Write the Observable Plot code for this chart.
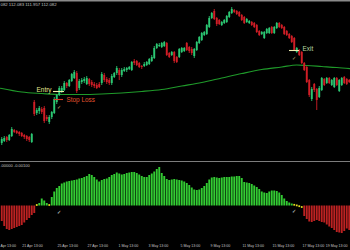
<!DOCTYPE html>
<html><head><meta charset="utf-8">
<script src="https://cdn.jsdelivr.net/npm/d3@7"></script>
<script src="https://cdn.jsdelivr.net/npm/@observablehq/plot@0.6"></script>
<style>
html,body{margin:0;padding:0;background:#000;}
#wrap{width:350px;height:250px;overflow:hidden;background:#000;}
#sep{height:0;border-top:1px solid #7c7c7c;}
svg{display:block;}
</style></head><body><div id="wrap"><div id="top"></div><div id="sep"></div><div id="bot"></div></div>
<script>
// ---- price candles (H4) ----
const open = [108.98,109.06,109.22,109.10,109.26,109.50,109.46,109.42,109.38,109.30,109.26,109.22,109.02,
110.62,110.18,110.26,110.34,110.38,110.02,109.82,110.02,110.18,110.62,110.90,111.06,111.10,
111.38,111.26,111.46,111.58,111.78,111.18,111.42,111.46,111.34,111.54,111.42,111.34,111.30,111.34,
111.38,111.70,111.54,111.50,111.38,111.62,111.78,111.90,111.70,111.86,111.90,111.94,111.90,
112.26,112.26,112.18,112.06,112.06,112.10,112.14,112.26,112.38,112.78,112.86,112.82,112.86,
112.98,112.58,112.50,112.62,112.42,112.42,112.62,112.66,112.98,112.82,112.74,112.46,112.70,
112.98,113.10,113.30,113.34,113.62,113.98,114.26,113.98,113.90,113.70,113.78,113.82,114.02,114.18,
114.30,114.26,114.22,114.10,114.02,113.82,113.78,113.82,113.78,113.70,113.46,113.34,113.18,
113.38,113.38,113.62,113.38,113.58,113.78,113.70,113.62,113.46,113.34,113.26,113.18,112.62,
112.70,112.62,112.18,112.02,111.50,110.74,111.34,111.14,110.82,111.10,111.54,111.38,111.58,
111.30,111.22,111.58,111.06,111.30,111.62,111.54,111.50];
const high = [109.22,109.26,109.26,109.34,109.62,109.54,109.50,109.46,109.42,109.34,109.30,109.26,109.38,
110.70,110.38,110.46,110.42,110.46,110.10,110.10,110.26,110.82,110.94,111.26,111.26,111.46,
111.42,111.54,111.78,111.90,111.86,111.54,111.58,111.62,111.66,111.58,111.50,111.42,111.38,111.42,
111.82,111.78,111.62,111.58,111.74,111.82,112.06,111.98,111.98,112.02,112.02,112.06,112.26,
112.34,112.30,112.22,112.10,112.22,112.26,112.38,112.50,112.86,112.98,112.98,113.02,113.06,
113.02,112.62,112.66,112.66,112.46,112.78,112.82,112.82,113.02,112.86,112.82,112.78,113.06,
113.26,113.42,113.46,113.74,114.06,114.22,114.34,114.02,113.94,113.86,113.94,114.10,114.26,114.42,
114.34,114.30,114.26,114.14,114.06,113.98,113.90,113.86,113.82,113.74,113.50,113.46,113.46,
113.58,113.62,113.66,113.66,113.82,113.82,113.74,113.66,113.50,113.38,113.30,113.22,112.82,
112.74,112.66,112.22,112.06,111.54,111.22,111.38,111.18,111.26,111.62,111.58,111.62,111.62,
111.54,111.62,111.62,111.54,111.62,111.66,111.58,111.54];
const low = [108.90,109.02,109.02,109.06,109.22,109.38,109.34,109.26,109.22,109.14,109.06,109.02,108.98,
110.06,110.10,110.14,110.14,109.78,109.86,109.74,109.94,110.14,110.54,110.86,110.98,111.06,
111.18,111.22,111.42,111.54,110.98,111.10,111.34,111.38,111.30,111.26,111.22,111.18,111.14,111.18,
111.30,111.42,111.34,111.30,111.30,111.58,111.70,111.50,111.62,111.82,111.82,111.90,111.86,
112.10,112.06,111.98,111.94,112.02,112.06,112.10,112.22,112.34,112.74,112.82,112.78,112.82,
112.46,112.38,112.46,112.18,112.18,112.38,112.58,112.62,112.66,112.58,112.50,112.38,112.66,
112.94,113.06,113.26,113.30,113.58,113.94,113.90,113.66,113.70,113.66,113.74,113.78,113.98,114.14,
114.18,114.10,114.02,113.86,113.74,113.78,113.74,113.66,113.58,113.38,113.26,113.30,113.14,
113.34,113.34,113.34,113.34,113.54,113.58,113.54,113.30,113.26,113.14,112.98,112.66,112.58,
112.46,112.14,111.86,111.38,110.82,110.66,111.02,110.30,110.78,111.06,111.26,111.34,111.34,
111.26,111.18,111.26,111.02,111.26,111.34,111.30,111.38];
const close = [109.14,109.18,109.10,109.30,109.54,109.42,109.38,109.34,109.26,109.22,109.14,109.10,109.34,
110.14,110.30,110.38,110.22,109.86,109.94,110.02,110.22,110.74,110.90,111.18,111.18,111.38,
111.26,111.50,111.74,111.82,111.06,111.46,111.50,111.54,111.58,111.34,111.30,111.26,111.18,111.22,
111.74,111.50,111.42,111.38,111.66,111.78,111.98,111.70,111.90,111.94,111.98,112.02,112.22,
112.18,112.10,112.02,112.02,112.14,112.22,112.34,112.42,112.78,112.94,112.90,112.98,113.02,
112.50,112.42,112.62,112.26,112.22,112.74,112.78,112.78,112.70,112.66,112.58,112.74,113.02,
113.22,113.38,113.42,113.70,113.98,114.18,113.94,113.74,113.74,113.82,113.90,114.06,114.22,114.34,
114.22,114.14,114.06,113.90,113.78,113.94,113.86,113.70,113.62,113.42,113.30,113.42,113.42,
113.54,113.58,113.38,113.62,113.78,113.62,113.58,113.34,113.30,113.18,113.02,112.70,112.78,
112.50,112.18,111.90,111.42,110.90,111.14,111.10,110.70,111.18,111.58,111.30,111.58,111.38,
111.50,111.58,111.30,111.50,111.58,111.38,111.34,111.42];

// ---- moving average (sampled at candle positions) ----
const maIndex = [-0.5,8,16,24,32,40,48,56,64,72,80,88,96,104,112,118,122,128,134,139.5];
const maValue = [111.19,111.04,110.98,110.94,110.94,110.96,111.00,111.06,111.14,111.28,111.42,111.60,111.78,111.94,112.04,112.12,112.10,112.06,112.02,111.97];

// ---- oscillator histogram ----
const oscillator = [-15.5,-20.5,-23.5,-24.5,-23.5,-22.5,-21.5,-20.5,-19.5,-17,-14.5,-12.5,-9.5,-7.5,
1,2.5,7,5,2.5,1,
8.5,14,17.5,19.5,22,23,24,24.5,25,25.5,26,27,27.5,28.5,29.5,
31.5,30.5,28.5,26,24,25.5,26.5,27,28.5,30.5,31.5,33,32,31,31.5,
32.5,33,33.5,33.5,32.5,31,29.5,28.5,28.5,30.5,32,34,36.5,38.5,32.5,
29.5,26.5,25.5,26,26.5,26,25.5,25,24,22.5,20.5,18,16,15.5,16,
17.5,19.5,22.5,26,28,28.5,28,27.5,28,28.5,28.5,28.5,29,29,29.5,
29.5,27.5,23.5,23,22.5,21.5,20,18.5,16.5,14,13,12.5,14,15,15,
14.5,13,10.5,7,4.5,3,2,1.2,0.6,-0.2,-1,-10.5,-13.5,-16,-16.5,
-15.5,-14.5,-15.5,-16.5,-17,-19,-21,-22.5,-24.5,-26.5,-27,-27.5,-25.5,-23,-24.5];

// ---- trade levels ----
const levelNames = ["Entry","Stop Loss","Exit"];
const levelPrice = [111.06,110.74,112.70];
const levelFrom = [20.7,21.1,115.1];
const levelTo = [25.1,24.7,119.1];
const levelLabelIndex = [19.9,25.9,120.3];
const levelLabelPrice = [111.12,110.72,112.76];
const signalIndex = [22.7,116.7];
const signalPrice = [110.42,112.38];
const oscSignalValue = [-6.2,-5.5];

// ---- time axis ----
const tickIndex = [-0.5,8.2,22.3,34.3,46.7,58.7,71.5,83.5,96.3,108.3,120.3,129.6];
const tickLabels = ["Apr 13:00","21 Apr 13:00","25 Apr 13:00","27 Apr 13:00","1 May 13:00","3 May 13:00","5 May 13:00","9 May 13:00","11 May 13:00","15 May 13:00","17 May 13:00","19 May 13:00"];

const headerText = "082 112.083 111.957 112.082";
const oscHeader = ".00000 -0.00100";

const UP = "#2bc873", DOWN = "#d01e26";
const N = close.length;
const candles = close.map((c, i) => ({i, o: open[i], h: high[i], l: low[i], c, col: c >= open[i] ? UP : DOWN}));
const ma = maIndex.map((i, k) => ({i, v: maValue[k]}));
const levels = levelNames.map((n, k) => ({n, p: levelPrice[k], a: levelFrom[k], b: levelTo[k], li: levelLabelIndex[k], lp: levelLabelPrice[k]}));
const lineCol = ["#f0f0a8", "#dd3a26", "#ececb0"];
const textCol = ["#e6e68e", "#e2532e", "#b9dba0"];
const anchors = ["end", "start", "start"];
const osc = oscillator.map((v, i) => ({i, v}));
const ticks = tickIndex.map((i, k) => ({i, t: tickLabels[k]}));
const xDomain = [-0.5, N - 0.5];
const font = "Liberation Sans, Arial, sans-serif";

const topPlot = Plot.plot({
  width: 350, height: 161, margin: 0,
  style: {background: "#000", fontFamily: font},
  x: {domain: xDomain, axis: null},
  y: {domain: [108.26, 114.70], axis: null},
  marks: [
    Plot.ruleY([114.70], {stroke: "#8a8a8a", strokeWidth: 2}),
    Plot.line(ma, {x: "i", y: "v", stroke: "#1f9a2a", strokeWidth: 1.2, curve: "monotone-x"}),
    Plot.ruleX(candles, {x: "i", y1: "l", y2: "h", stroke: "col", strokeWidth: 0.9}),
    Plot.ruleX(candles, {x: "i", y1: "o", y2: "c", stroke: "col", strokeWidth: 1.9}),
    Plot.ruleY(levels, {y: "p", x1: "a", x2: "b", stroke: (d) => lineCol[levelNames.indexOf(d.n)], strokeWidth: 1.1}),
    ...levels.map((d, k) => Plot.text([d], {x: "li", y: "lp", text: "n", fill: textCol[k], fontSize: 6.4, textAnchor: anchors[k]})),
    Plot.text(signalIndex.map((i, k) => ({i, p: signalPrice[k]})), {x: "i", y: "p", text: () => "✓", fill: "#c8b478", fontSize: 5}),
    Plot.text([headerText], {frameAnchor: "top-left", dy: 3.8, text: d => d, fill: "#c4c4c4", fontSize: 4.3, textAnchor: "start", lineAnchor: "middle"})
  ]
});
document.getElementById("top").appendChild(topPlot);

const botPlot = Plot.plot({
  width: 350, height: 88, margin: 0,
  style: {background: "#000", fontFamily: font},
  x: {domain: xDomain, axis: null},
  y: {domain: [-44.5, 43.5], axis: null},
  marks: [
    Plot.ruleX(osc.filter(d => Math.abs(d.v) > 1.5), {x: "i", y1: 0, y2: "v", stroke: d => d.v > 0 ? "#33cc33" : "#bc2222", strokeWidth: 1.9}),
    Plot.dot(osc.filter(d => Math.abs(d.v) <= 1.5), {x: "i", y: "v", r: 1, symbol: "square", fill: "#e8e020", stroke: "none"}),
    Plot.text(signalIndex.map((i, k) => ({i, v: oscSignalValue[k]})), {x: "i", y: "v", text: () => "✓", fill: "#e0e0e0", fontSize: 5}),
    Plot.text([oscHeader], {frameAnchor: "top-left", dy: 3, text: d => d, fill: "#c4c4c4", fontSize: 4, textAnchor: "start", lineAnchor: "middle"}),
    Plot.text(ticks, {x: "i", text: "t", frameAnchor: "bottom", dy: -4.5, fill: "#c4c4c4", fontSize: 3.6, textAnchor: "start", lineAnchor: "middle"})
  ]
});
document.getElementById("bot").appendChild(botPlot);
</script>
</body></html>
